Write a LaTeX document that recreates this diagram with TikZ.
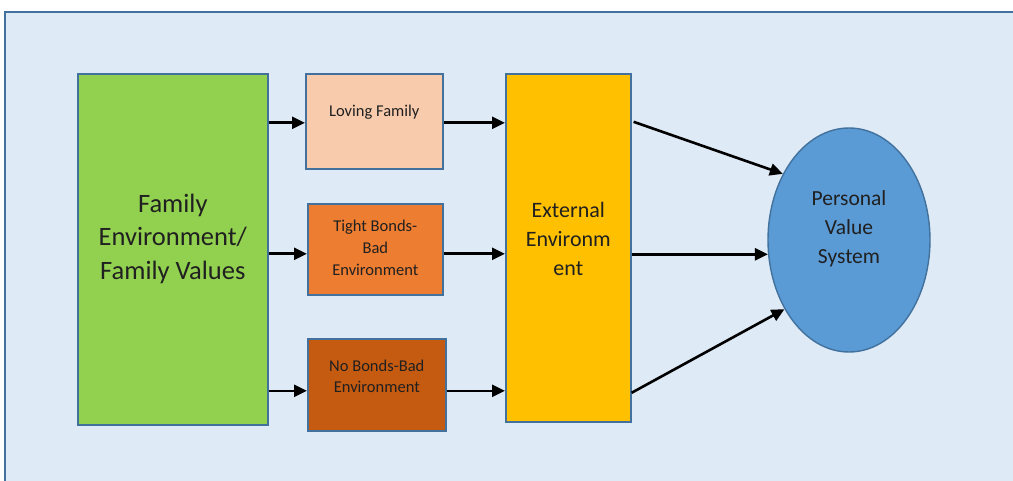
\documentclass[tikz,border=0pt]{standalone}
\usepackage{fontspec}
\setmainfont{Carlito}
\usetikzlibrary{shapes.geometric,arrows.meta,calc}
\definecolor{panel}{HTML}{DEEAF6}
\definecolor{edge}{HTML}{41719C}
\definecolor{famgreen}{HTML}{92D050}
\definecolor{loving}{HTML}{F8CBAD}
\definecolor{tight}{HTML}{ED7D31}
\definecolor{nobonds}{HTML}{C55A11}
\definecolor{extern}{HTML}{FFC000}
\definecolor{pvsblue}{HTML}{5B9BD5}
\definecolor{ink}{HTML}{202020}
\begin{document}
\begin{tikzpicture}[x=1pt,y=-1pt,
  box/.style={draw=edge,line width=1.6pt,rectangle,inner sep=0pt,anchor=north west},
  lbl/.style={text=ink,align=center,inner sep=0pt},
  flow/.style={line width=2.6pt,-{Triangle[length=13pt,width=12pt]}}]
  \useasboundingbox (0,0) rectangle (1013,481);
  \clip (0,0) rectangle (1013,481);
  \fill[white] (0,0) rectangle (1013,481);
  % background panel
  \draw[fill=panel,draw=edge,line width=2pt] (5,12) rectangle (1030,500);

  % boxes
  \node[box,fill=famgreen,minimum width=190pt,minimum height=351pt] (fam) at (77,73) {};
  \node[box,fill=loving,minimum width=137pt,minimum height=95pt] (lov) at (305,73) {};
  \node[box,fill=tight,minimum width=135pt,minimum height=91pt] (tig) at (307,203) {};
  \node[box,fill=nobonds,minimum width=138pt,minimum height=92pt] (nob) at (307,338) {};
  \node[box,fill=extern,minimum width=125pt,minimum height=348pt] (ext) at (505,73) {};
  \node[ellipse,draw=edge,line width=1.4pt,fill=pvsblue,minimum width=162pt,minimum height=224pt,inner sep=0pt] (pvs) at (849,240) {};

  % texts
  \node[lbl,font=\fontsize{26.5}{33.5}\selectfont] at ($(fam.center)+(0,-10.5)$) {Family\\Environment/\\Family Values};
  \node[lbl,font=\fontsize{16.5}{21}\selectfont] at ($(lov.center)+(0,-9)$) {Loving Family};
  \node[lbl,font=\fontsize{16.5}{22}\selectfont] at ($(tig.center)+(0,-1)$) {Tight Bonds-\\Bad\\Environment};
  \node[lbl,font=\fontsize{16.5}{21}\selectfont] at ($(nob.center)+(0,-8.5)$) {No Bonds-Bad\\Environment};
  \node[lbl,font=\fontsize{22}{29}\selectfont] at ($(ext.center)+(0,-9)$) {External\\Environm\\ent};
  \node[lbl,font=\fontsize{21.5}{29}\selectfont] at ($(pvs.center)+(0,-11)$) {Personal\\Value\\System};

  % connectors
  \draw[flow] ($(fam.east |- lov.west)+(0,1.5)$) -- ($(lov.west)+(0,1.5)$);
  \draw[flow] ($(fam.east |- tig.west)+(0,4.5)$) -- ($(tig.west)+(0,4.5)$);
  \draw[flow] ($(fam.east |- nob.west)+(0,6)$) -- ($(nob.west)+(0,6)$);
  \draw[flow] ($(lov.east)+(0,1.5)$) -- ($(ext.west |- lov.east)+(0,1.5)$);
  \draw[flow] ($(tig.east)+(0,4.5)$) -- ($(ext.west |- tig.east)+(0,4.5)$);
  \draw[flow] ($(nob.east)+(0,6)$) -- ($(ext.west |- nob.east)+(0,6)$);
  \draw[flow] ($(ext.east)+(2,-126)$) -- (pvs.135);
  \draw[flow] (ext.east |- pvs.190) -- (pvs.190);
  \draw[flow] ($(ext.east)+(0,145)$) -- (pvs.227);
\end{tikzpicture}
\end{document}
